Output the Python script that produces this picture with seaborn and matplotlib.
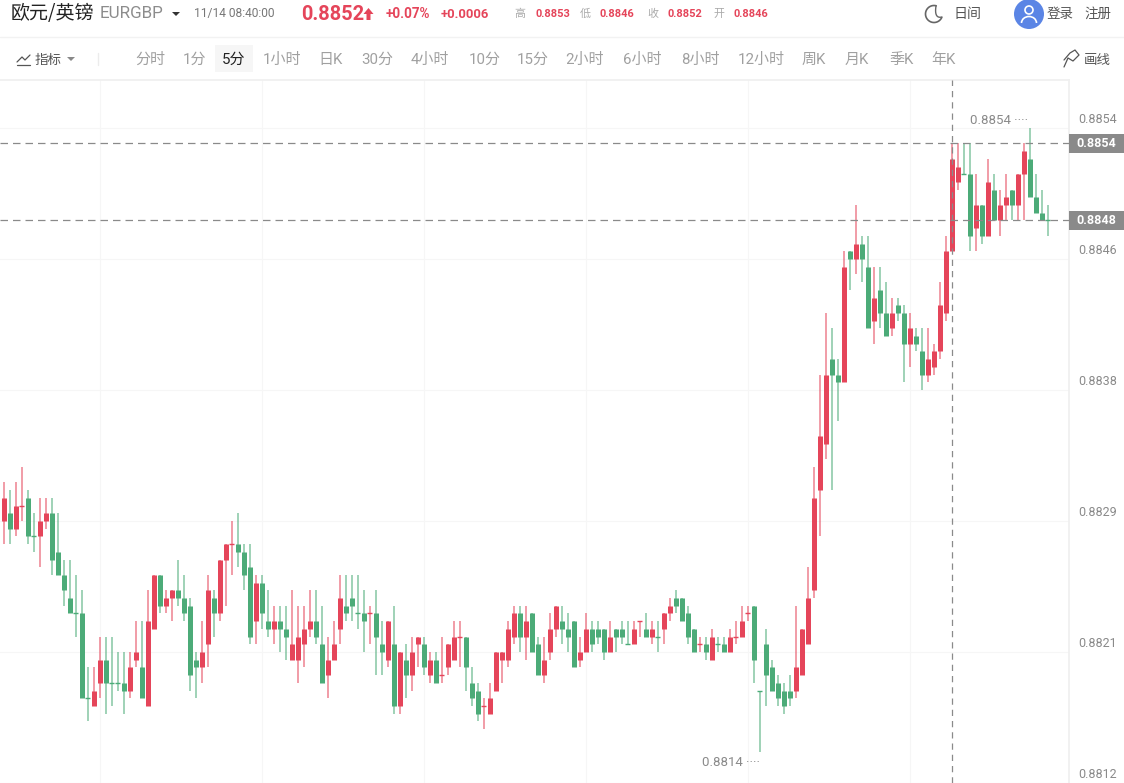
import matplotlib
matplotlib.use("Agg")

import matplotlib.pyplot as plt
from matplotlib.patches import Arc, Circle, Polygon, Rectangle
from matplotlib.transforms import ScaledTranslation
import numpy as np
import pandas as pd
import seaborn as sns


# Prices are stored in ticks of 0.00005 above 0.8800
BASE = 0.88
TICK = 0.00005

opens = [60, 58, 59, 57, 60, 61, 56, 56, 58, 59, 54, 51, 48, 46, 46, 35, 34, 37, 40, 37,
         37, 37, 36, 40, 39, 34, 44, 51, 47, 48, 49, 48, 47, 40, 39, 42, 48, 46, 53, 55,
         55, 54, 52, 45, 50, 45, 44, 45, 44, 40, 40, 42, 44, 45, 42, 38, 40, 44, 47, 48,
         46, 46, 46, 46, 42, 40, 42, 34, 40, 38, 42, 42, 38, 40, 38, 39, 40, 43, 43, 37,
         36, 34, 33, 36, 40, 40, 43, 46, 43, 46, 42, 38, 41, 44, 45, 44, 45, 40, 41, 44,
         44, 44, 41, 44, 44, 42, 42, 45, 44, 43, 43, 44, 46, 48, 48, 46, 44, 42, 42, 40,
         42, 42, 41, 43, 43, 46, 47, 36, 42, 39, 37, 36, 36, 36, 38, 42, 49, 62, 68, 79,
         77, 76, 93, 92, 94, 91, 84, 88, 85, 83, 86, 85, 81, 82, 80, 77, 78, 80, 85, 93,
         102, 103, 103, 96, 99, 95, 101, 97, 99, 101, 99, 103, 105, 100, 98, 97]
highs = [60, 63, 62, 63, 65, 62, 59, 61, 61, 61, 59, 53, 53, 51, 49, 39, 39, 43, 43, 43,
         41, 41, 41, 45, 45, 49, 51, 51, 49, 49, 53, 51, 48, 41, 45, 51, 49, 53, 55, 58,
         59, 55, 55, 51, 51, 49, 47, 47, 47, 49, 47, 47, 49, 49, 47, 43, 45, 51, 51, 51,
         51, 49, 47, 49, 45, 45, 47, 41, 42, 43, 43, 43, 41, 41, 43, 42, 45, 45, 43, 39,
         37, 35, 37, 41, 41, 45, 47, 47, 47, 46, 43, 43, 46, 47, 47, 46, 45, 43, 46, 45,
         45, 44, 45, 44, 45, 45, 45, 45, 46, 45, 45, 46, 48, 49, 48, 47, 44, 43, 43, 44,
         43, 43, 44, 45, 47, 47, 47, 36, 44, 40, 38, 37, 38, 47, 44, 52, 65, 77, 85, 83,
         79, 93, 93, 99, 95, 95, 91, 91, 89, 87, 87, 86, 85, 83, 83, 83, 81, 89, 95, 107,
         107, 107, 107, 103, 99, 105, 103, 101, 103, 101, 103, 107, 109, 103, 101, 99]
lows = [57, 55, 55, 56, 58, 55, 54, 52, 57, 51, 51, 47, 46, 43, 35, 32, 34, 35, 33, 34,
        36, 33, 35, 39, 35, 34, 44, 46, 46, 45, 47, 45, 36, 35, 37, 39, 43, 45, 47, 51,
        52, 49, 42, 42, 44, 43, 42, 41, 40, 40, 37, 39, 43, 42, 37, 35, 40, 42, 45, 45,
        44, 41, 42, 38, 38, 39, 33, 33, 35, 36, 39, 38, 37, 37, 37, 38, 40, 39, 36, 34,
        32, 31, 33, 36, 37, 39, 42, 41, 40, 41, 38, 37, 40, 43, 42, 41, 39, 39, 41, 41,
        42, 40, 41, 41, 42, 42, 42, 43, 43, 42, 41, 42, 45, 46, 45, 42, 41, 41, 40, 40,
        41, 41, 41, 42, 43, 45, 37, 28, 34, 36, 34, 33, 34, 35, 38, 42, 48, 56, 66, 62,
        71, 76, 88, 90, 89, 83, 81, 83, 82, 82, 84, 76, 78, 80, 75, 76, 77, 79, 84, 93,
        101, 103, 93, 93, 94, 95, 97, 95, 97, 97, 97, 97, 101, 99, 97, 95]
closes = [57, 61, 57, 60, 60, 56, 56, 58, 59, 53, 51, 49, 46, 46, 35, 35, 36, 40, 37, 37,
          37, 36, 39, 41, 35, 45, 51, 47, 48, 49, 48, 46, 38, 39, 41, 49, 46, 53, 55, 55,
          54, 51, 43, 50, 46, 44, 45, 44, 43, 42, 43, 44, 45, 43, 37, 40, 42, 48, 46, 47,
          46, 45, 46, 43, 41, 45, 34, 41, 38, 41, 43, 39, 40, 37, 38, 42, 43, 43, 39, 35,
          33, 34, 35, 41, 41, 44, 46, 43, 45, 41, 38, 40, 44, 47, 44, 43, 39, 41, 44, 42,
          43, 41, 43, 43, 43, 42, 44, 45, 43, 44, 43, 46, 47, 47, 45, 43, 41, 42, 41, 43,
          42, 41, 43, 43, 45, 46, 40, 36, 38, 36, 35, 34, 35, 39, 44, 48, 61, 69, 77, 77,
          76, 91, 92, 94, 92, 83, 87, 85, 82, 85, 85, 81, 83, 81, 77, 79, 80, 86, 93, 105,
          104, 103, 95, 99, 95, 102, 97, 99, 100, 99, 103, 106, 100, 98, 97, 97]

# Candles with open == close that are drawn green
green_dojis = [6, 13, 15, 19, 20, 60, 105, 110, 120, 127, 161, 175]

y_ticks = [0.8812, 0.88205, 0.8829, 0.88375, 0.8846, 0.88545]
y_labels = ["0.8812", "0.8821", "0.8829", "0.8838", "0.8846", "0.8854"]
x_grid = [17, 44, 71, 98, 125, 152]

last_high = 0.88535
last_close = 0.88485
high_mark = 0.8854
low_mark = 0.8814
high_index = 172
low_index = 127
cross_index = 159

row_one = [("EURGBP", 100, 17, "#8c8c8c"), ("11/14 08:40:00", 194, 12, "#777777"),
           ("0.8852", 301, 20, "#e5455a"), ("+0.07%", 386, 13.5, "#e5455a"),
           ("+0.0006", 441, 13, "#e5455a"), ("高", 514, 11, "#aaaaaa"),
           ("0.8853", 535, 11, "#e5455a"), ("低", 580, 11, "#aaaaaa"),
           ("0.8846", 600, 11, "#e5455a"), ("收", 647, 11, "#aaaaaa"),
           ("0.8852", 667, 11, "#e5455a"), ("开", 713, 11, "#aaaaaa"),
           ("0.8846", 734, 11, "#e5455a"), ("日间", 953, 14, "#555555"),
           ("登录", 1047, 13.5, "#555555"), ("注册", 1084, 13.5, "#555555")]
tab_names = ["分时", "1分", "5分", "1小时", "日K", "30分", "4小时", "10分", "15分", "2小时",
             "6小时", "8小时", "12小时", "周K", "月K", "季K", "年K"]
tab_left = [135, 183, 222, 263, 318, 361, 411, 469, 517, 565, 623, 681, 738, 802, 845, 889, 931]


RED = "#e5455a"
GREEN = "#4cab78"
PALETTE = {"up": RED, "down": GREEN}
FONTS = ["Roboto", "Noto Sans CJK SC", "DejaVu Sans"]
CJK_FONTS = ["Noto Sans CJK SC", "DejaVu Sans"]


def to_price(values):
    return BASE + TICK * np.array(values)


# Table
candles = pd.DataFrame({
    "idx": np.arange(len(opens)),
    "open": to_price(opens),
    "high": to_price(highs),
    "low": to_price(lows),
    "close": to_price(closes),
})
candles["side"] = np.where(np.array(closes) >= np.array(opens), "up", "down")
candles.loc[green_dojis, "side"] = "down"
is_doji = np.array(opens) == np.array(closes)

wicks = candles.melt(id_vars=["idx", "side"], value_vars=["high", "low"], value_name="price")
bodies = candles[~is_doji].melt(id_vars=["idx", "side"], value_vars=["open", "close"], value_name="price")

doji = candles[is_doji]
doji_lines = pd.concat([
    doji.assign(pos=doji["idx"] - 0.38),
    doji.assign(pos=doji["idx"] + 0.38),
])


# Figure
sns.set_theme(style="white")
plt.rcParams["font.family"] = FONTS

fig = plt.figure(figsize=(11.24, 7.83), dpi=100)
ax = fig.add_axes([0, 0, 1069 / 1124, 703 / 783])

sns.lineplot(data=wicks, x="idx", y="price", units="idx", estimator=None, hue="side",
             palette=PALETTE, legend=False, linewidth=1.15, alpha=0.65,
             solid_capstyle="butt", ax=ax)
sns.lineplot(data=bodies, x="idx", y="price", units="idx", estimator=None, hue="side",
             palette=PALETTE, legend=False, linewidth=3.6,
             solid_capstyle="butt", ax=ax)
sns.lineplot(data=doji_lines, x="pos", y="open", units="idx", estimator=None, hue="side",
             palette=PALETTE, legend=False, linewidth=1.0,
             solid_capstyle="butt", ax=ax)

ax.set_xlim(0.39, 178.55)
ax.set_ylim(0.8812, 0.8812 + 703 / 131 * 0.00085)
ax.set_xlabel("")
ax.set_ylabel("")

ax.set_xticks(x_grid)
ax.set_xticklabels([])
ax.set_yticks(y_ticks)
ax.set_yticklabels(y_labels)
ax.yaxis.tick_right()
ax.tick_params(axis="both", length=0)
ax.tick_params(axis="y", pad=6.5, labelsize=9, labelcolor="#8a8a8a")
for label in ax.get_yticklabels():
    label.set_va("bottom")
    label.set_transform(label.get_transform() + ScaledTranslation(0, 2 / 100, fig.dpi_scale_trans))

ax.grid(True, color="#f6f6f6", linewidth=0.8)
ax.set_axisbelow(True)
sns.despine(ax=ax, left=True, bottom=True, top=False, right=False)
ax.spines["right"].set_color("#f0f0f0")
ax.spines["top"].set_color("#f0f0f0")


# Price lines
for price in [last_high, last_close]:
    ax.axhline(price, color="#8a8a8a", linewidth=0.9, dashes=(6, 4), zorder=5)
ax.axvline(cross_index, color="#8a8a8a", linewidth=0.9, dashes=(5, 4), zorder=5)

ax.annotate("0.8854 ····", (high_index, high_mark), xytext=(-1, 6), textcoords="offset points",
            ha="right", va="bottom", fontsize=9.5, color="#8a8a8a")
ax.annotate("0.8814 ····", (low_index, low_mark), xytext=(0, -2.5), textcoords="offset points",
            ha="right", va="top", fontsize=9.5, color="#8a8a8a")


# Header, drawn on a pixel overlay
top = fig.add_axes([0, 0, 1, 1], zorder=10)
top.set_xlim(0, 1124)
top.set_ylim(783, 0)
top.axis("off")
top.patch.set_alpha(0)

top.plot([0, 1124], [37, 37], color="#f2f2f2", linewidth=1)
top.add_patch(Rectangle((215, 45), 38, 27, facecolor="#f6f6f6", edgecolor="none"))
top.plot([98, 98], [53, 65], color="#ececec", linewidth=1)


def header_text(x, y, text, size_px, color, **kwargs):
    top.text(x, y, text, fontsize=size_px * 0.72, color=color, va="center", ha="left", **kwargs)


# Price tags on the axis
for price, text in [(last_high, "0.8854"), (last_close, "0.8848")]:
    y_px = 783 - ax.transData.transform((0, price))[1]
    top.add_patch(Rectangle((1069, y_px - 9.5), 55, 19, facecolor="#8a8a8a", edgecolor="none"))
    top.text(1096.5, y_px, text, ha="center", va="center", fontsize=9, fontweight="bold", color="white")

header_text(11, 14, "欧元/英镑", 19, "#222222", family=CJK_FONTS, fontweight="medium")
for text, x, size, color in row_one:
    bold = color == RED and size >= 11
    header_text(x, 14, text, size, color, fontweight="bold" if bold else "normal")

for text, x in zip(tab_names, tab_left):
    color = "#222222" if text == "5分" else "#a0a0a0"
    header_text(x, 60, text, 15, color)

header_text(35, 60, "指标", 13.5, "#555555")
header_text(1084, 60, "画线", 13.5, "#555555")

# Small carets and the price arrow
for x, y, c in [(176, 14, "#333333"), (71, 59, "#888888")]:
    top.add_patch(Polygon([[x - 4, y - 2], [x + 4, y - 2], [x, y + 2]], facecolor=c, edgecolor="none"))
top.add_patch(Polygon([[368.5, 8], [373.5, 14], [370.5, 14], [370.5, 20], [366.5, 20], [366.5, 14], [363.5, 14]],
                      facecolor=RED, edgecolor="none"))

# Moon icon
t = np.linspace(0, 1, 20)
tip_a, tip_b = np.array([936, 6]), np.array([942, 17])
mid = np.array([934, 19])
inner = np.outer((1 - t) ** 2, tip_a) + np.outer(2 * t * (1 - t), mid) + np.outer(t ** 2, tip_b)
arc_t = np.radians(np.linspace(-75, -335, 40))
top.plot(934 + 8.5 * np.cos(arc_t), 14 + 8.5 * np.sin(arc_t), color="#666666", linewidth=1.2)
top.plot(inner[:, 0], inner[:, 1], color="#666666", linewidth=1.0)

# Avatar and small icons
top.add_patch(Circle((1029, 14), 15, facecolor="#5b85e5", edgecolor="none"))
top.add_patch(Circle((1029, 10), 4, facecolor="none", edgecolor="white", linewidth=1.2))
top.add_patch(Arc((1029, 23), 15, 13, theta1=180, theta2=360, color="white", linewidth=1.2))
top.plot([17, 22, 25, 30], [62, 57, 60, 55], color="#555555", linewidth=0.9)
top.plot([17, 30], [65, 65], color="#555555", linewidth=0.9)
top.plot([1064, 1070, 1075, 1079, 1073, 1068, 1064], [60, 53, 50, 55, 61, 58, 67], color="#555555", linewidth=0.9)

fig.savefig("out.png", dpi=100)
